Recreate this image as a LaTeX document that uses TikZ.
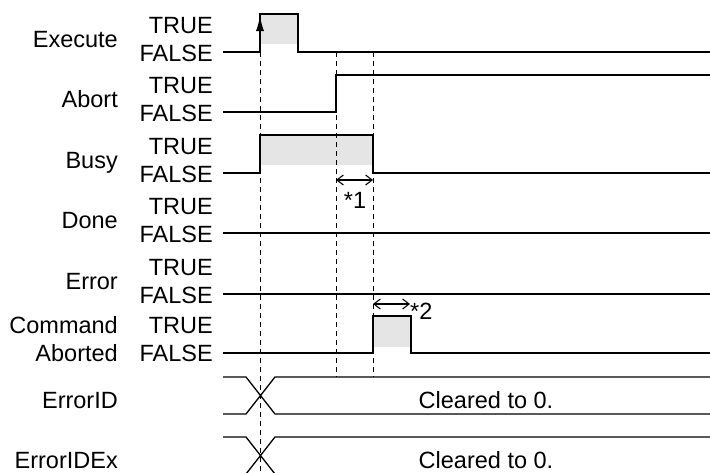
\documentclass[tikz,border=0pt]{standalone}
\usepackage{fontspec}
\setmainfont{Liberation Sans}
\usetikzlibrary{arrows.meta}
\begin{document}
\begin{tikzpicture}[x=1pt,y=-1pt,
  txt/.style={font=\fontsize{23.5}{28}\selectfont, inner sep=0pt},
  lbl/.style={txt, anchor=base east},
  ctr/.style={txt, anchor=base},
  sig/.style={line width=1.8pt, line join=miter},
  bus/.style={line width=1.3pt},
  guide/.style={line width=0.8pt, dash pattern=on 5pt off 4pt},
  hi/.style={fill=black!10},
  dim/.style={line width=1.1pt, {Straight Barb[length=6.5pt,width=10pt]}-{Straight Barb[length=6.5pt,width=10pt]}}]
\useasboundingbox (0,0) rectangle (710,472);
% highlighted areas
\fill[hi] (260,14) rectangle (298,44);
\fill[hi] (260,135) rectangle (373,165);
\fill[hi] (373,316) rectangle (411,347);
% guides
\draw[guide] (260,52) -- (260,472);
\draw[guide] (336,52) -- (336,377);
\draw[guide] (373,52) -- (373,377);
% labels
\node[lbl] (exN) at (118,47) {Execute};
\node[lbl] (exT) at (213,33) {TRUE};
\node[lbl] (exF) at (213,61) {FALSE};
\node[lbl] (abN) at (118,107) {Abort};
\node[lbl] (abT) at (213,93) {TRUE};
\node[lbl] (abF) at (213,121) {FALSE};
\node[lbl] (buN) at (118,168) {Busy};
\node[lbl] (buT) at (213,154) {TRUE};
\node[lbl] (buF) at (213,182) {FALSE};
\node[lbl] (doN) at (118,228) {Done};
\node[lbl] (doT) at (213,214) {TRUE};
\node[lbl] (doF) at (213,242) {FALSE};
\node[lbl] (erN) at (118,289) {Error};
\node[lbl] (erT) at (213,275) {TRUE};
\node[lbl] (erF) at (213,303) {FALSE};
\node[lbl] (caN1) at (118,333) {Command};
\node[lbl] (caN2) at (118,361) {Aborted};
\node[lbl] (caT) at (213,333) {TRUE};
\node[lbl] (caF) at (213,361) {FALSE};
\node[lbl] (eiN) at (118,408) {ErrorID};
\node[lbl] (exxN) at (118,468) {ErrorIDEx};
\node[ctr] (eiV) at (486,408) {Cleared to 0.};
\node[ctr] (exxV) at (486,468) {Cleared to 0.};
% signals
\draw[sig] (223,52) -- (260,52) -- (260,14) -- (298,14) -- (298,52) -- (710,52);
\draw[-{Latex[length=15pt,width=8pt]}, line width=1.2pt] (260,45) -- (260,16);
\draw[sig] (223,112) -- (336,112) -- (336,75) -- (710,75);
\draw[sig] (223,173) -- (260,173) -- (260,135) -- (373,135) -- (373,173) -- (710,173);
\draw[sig] (223,233) -- (710,233);
\draw[sig] (223,294) -- (710,294);
\draw[sig] (223,353) -- (373,353) -- (373,316) -- (411,316) -- (411,353) -- (710,353);
% buses
\draw[bus] (223,377) -- (246,377) -- (275,414) -- (710,414);
\draw[bus] (223,414) -- (246,414) -- (275,377) -- (710,377);
\draw[bus] (223,437) -- (246,437) -- (275,474) -- (710,474);
\draw[bus] (223,474) -- (246,474) -- (275,437) -- (710,437);
% dimensions
\coordinate (d1a) at (336,180);
\coordinate (d1b) at (373,180);
\draw[dim] (d1a) -- (d1b);
\node[ctr] (s1) at (355,208) {*1};
\coordinate (d2a) at (373,304);
\coordinate (d2b) at (410,304);
\draw[dim] (d2a) -- (d2b);
\node[txt, anchor=base west] (s2) at (410,319) {*2};
\end{tikzpicture}
\end{document}
